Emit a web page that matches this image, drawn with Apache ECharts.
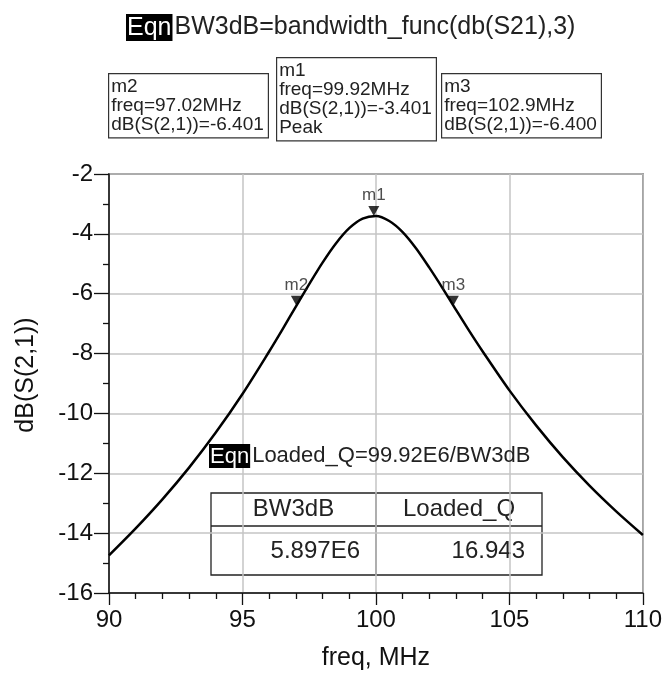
<!DOCTYPE html>
<html>
<head>
<meta charset="utf-8">
<script src="https://cdn.jsdelivr.net/npm/echarts@6/dist/echarts.min.js"></script>
<style>
  html, body { margin: 0; padding: 0; background: #fff; }
  #chart { width: 665px; height: 681px; }
</style>
</head>
<body>
<div id="chart"></div>
<script>
// Simulated filter response: dB(S(2,1)) versus frequency
const freqMHz = [90, 91, 92, 93, 94, 95, 96, 96.5, 97, 97.5, 98, 98.5, 99, 99.5, 100,
                 100.5, 101, 101.5, 102, 102.5, 103, 103.5, 104, 105, 106, 107, 108, 109, 110];
const s21dB = [-14.74, -13.84, -12.87, -11.81, -10.64, -9.35, -7.93, -7.19, -6.43, -5.68,
               -4.96, -4.32, -3.81, -3.49, -3.40, -3.57, -3.94, -4.48, -5.13, -5.82,
               -6.54, -7.25, -7.93, -9.23, -10.40, -11.46, -12.41, -13.27, -14.06];

// Markers
const markerNames = ['m2', 'm1', 'm3'];
const markerFreq = [97.02, 99.92, 102.9];
const markerDb = [-6.401, -3.401, -6.400];
const markerNote = ['', 'Peak', ''];

// Equations and results table
const bwEquation = 'BW3dB=bandwidth_func(db(S21),3)';
const qEquation = 'Loaded_Q=99.92E6/BW3dB';
const tableHeaders = ['BW3dB', 'Loaded_Q'];
const tableValues = ['5.897E6', '16.943'];

// Axes
const xRange = [90, 110];
const xStep = 5;
const yRange = [-16, -2];
const yStep = 2;
const xTitle = 'freq, MHz';
const yTitle = 'dB(S(2,1))';

const FONT = 'Liberation Sans, Arial, sans-serif';
const INK = '#111';

function markerText(i) {
  const lines = [
    markerNames[i],
    'freq=' + String(markerFreq[i]) + 'MHz',
    'dB(S(2,1))=' + markerDb[i].toFixed(3)
  ];
  if (markerNote[i]) lines.push(markerNote[i]);
  return lines.join('\n');
}

function markerBox(i, left, top) {
  return {
    type: 'text', left: left, top: top, z: 10,
    style: {
      text: markerText(i),
      fontFamily: FONT, fontSize: 19, lineHeight: 19,
      fill: '#222',
      backgroundColor: '#fff',
      borderColor: '#333', borderWidth: 1.2,
      padding: [3, 4, 3, 2]
    }
  };
}

// "Eqn" tag drawn as white text on a black block, followed by the expression
function eqnLabel(expr, size, left, top) {
  return {
    type: 'text', left: left, top: top, z: 10,
    style: {
      text: '{e|Eqn}{t|' + expr + '}',
      fontSize: size, fontFamily: FONT,
      rich: {
        e: { fontSize: size, fontFamily: FONT, fill: '#fff', backgroundColor: '#000', padding: [2, 1, 0, 1] },
        t: { fontSize: size, fontFamily: FONT, fill: '#222', padding: [0, 0, 0, 2] }
      }
    }
  };
}

const chart = echarts.init(document.getElementById('chart'), null, { renderer: 'canvas' });

const tbl = { x: 211, y: 493, w: 331, hHead: 33, h: 82, mid: 376 };

chart.setOption({
  animation: false,
  textStyle: { fontFamily: FONT },
  grid: {
    left: 109, top: 174, right: 20, bottom: 88,
    show: true, borderColor: '#333', borderWidth: 1.5,
    backgroundColor: 'transparent'
  },
  xAxis: {
    type: 'value', min: xRange[0], max: xRange[1], interval: xStep,
    name: xTitle, nameLocation: 'middle', nameGap: 53,
    nameTextStyle: { fontSize: 25, color: INK, fontFamily: FONT },
    axisLine: { lineStyle: { color: INK, width: 1.5 } },
    axisTick: { length: 12, lineStyle: { color: INK, width: 1.3 } },
    minorTick: { show: true, splitNumber: 5, length: 6, lineStyle: { color: INK, width: 1.3 } },
    axisLabel: { fontSize: 24, color: INK, margin: 15, fontFamily: FONT },
    splitLine: { show: true, lineStyle: { color: '#c4c4c4', width: 1.5 } }
  },
  yAxis: {
    type: 'value', min: yRange[0], max: yRange[1], interval: yStep,
    name: yTitle, nameLocation: 'middle', nameGap: 70,
    nameTextStyle: { fontSize: 25, color: INK, fontFamily: FONT, padding: [0, 0, 0, 17] },
    axisLine: { lineStyle: { color: INK, width: 1.5 } },
    axisTick: { length: 15, lineStyle: { color: INK, width: 1.3 } },
    minorTick: { show: true, splitNumber: 2, length: 6, lineStyle: { color: INK, width: 1.3 } },
    axisLabel: { fontSize: 24, color: INK, margin: 16, fontFamily: FONT },
    splitLine: { show: true, lineStyle: { color: '#c4c4c4', width: 1.5 } }
  },
  series: [
    {
      type: 'line',
      data: freqMHz.map((f, i) => [f, s21dB[i]]),
      smooth: 0.3,
      showSymbol: false,
      lineStyle: { color: '#000', width: 2.5 },
      z: 3
    },
    {
      type: 'scatter',
      data: markerFreq.map((f, i) => ({ name: markerNames[i], value: [f, markerDb[i]] })),
      symbol: 'triangle',
      symbolRotate: 180,
      symbolSize: [11, 10],
      symbolOffset: [0, -5],
      itemStyle: { color: '#000' },
      label: {
        show: true, position: 'top', distance: 2,
        formatter: '{b}', fontSize: 17, color: '#222', fontFamily: FONT
      },
      z: 4
    }
  ],
  graphic: [
    eqnLabel(bwEquation, 25, 126, 14),
    markerBox(0, 108, 73),
    markerBox(1, 276, 57),
    markerBox(2, 441, 73),
    eqnLabel(qEquation, 22, 209, 444),
    {
      type: 'group', z: 10,
      children: [
        { type: 'rect', shape: { x: tbl.x, y: tbl.y, width: tbl.w, height: tbl.h },
          style: { fill: 'none', stroke: '#222', lineWidth: 1.3 } },
        { type: 'line', shape: { x1: tbl.x, y1: tbl.y + tbl.hHead, x2: tbl.x + tbl.w, y2: tbl.y + tbl.hHead },
          style: { stroke: '#222', lineWidth: 1.3 } },
        { type: 'line', shape: { x1: tbl.mid, y1: tbl.y, x2: tbl.mid, y2: tbl.y + tbl.h },
          style: { stroke: '#222', lineWidth: 1.3 } },
        { type: 'text', x: (tbl.x + tbl.mid) / 2, y: tbl.y + tbl.hHead / 2,
          style: { text: tableHeaders[0], fontSize: 24, fontFamily: FONT, fill: '#222', align: 'center', verticalAlign: 'middle' } },
        { type: 'text', x: (tbl.mid + tbl.x + tbl.w) / 2, y: tbl.y + tbl.hHead / 2,
          style: { text: tableHeaders[1], fontSize: 24, fontFamily: FONT, fill: '#222', align: 'center', verticalAlign: 'middle' } },
        { type: 'text', x: tbl.mid - 16, y: tbl.y + tbl.hHead + (tbl.h - tbl.hHead) / 2 + 1,
          style: { text: tableValues[0], fontSize: 24, fontFamily: FONT, fill: '#222', align: 'right', verticalAlign: 'middle' } },
        { type: 'text', x: tbl.x + tbl.w - 17, y: tbl.y + tbl.hHead + (tbl.h - tbl.hHead) / 2 + 1,
          style: { text: tableValues[1], fontSize: 24, fontFamily: FONT, fill: '#222', align: 'right', verticalAlign: 'middle' } }
      ]
    }
  ]
});
</script>
</body>
</html>
